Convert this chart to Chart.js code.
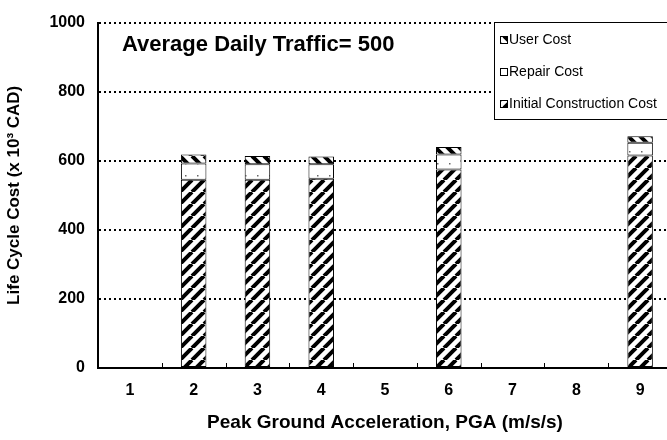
<!DOCTYPE html>
<html>
<head>
<meta charset="utf-8">
<script src="https://cdn.jsdelivr.net/npm/chart.js@4"></script>
<style>
  html, body { margin: 0; padding: 0; background: #fff; }
  #wrap { width: 667px; height: 440px; overflow: hidden; }
</style>
</head>
<body>
<div id="wrap"><canvas id="lcc" width="672" height="440"></canvas></div>
<script>
// values (x 10^3 CAD)
const pga = ['1', '2', '3', '4', '5', '6', '7', '8', '9'];
const initialCost = [null, 545, 545, 548, null, 575, null, null, 615];
const repairCost  = [null, 47, 45, 42, null, 43, null, null, 37];
const userCost    = [null, 26, 24, 22, null, 22, null, null, 19];
const yTicks = [0, 200, 400, 600, 800, 1000];

const FONT = 'Arial, "Liberation Sans", sans-serif';

function tile(draw) {
  const c = document.createElement('canvas');
  c.width = c.height = 12;
  const g = c.getContext('2d');
  g.fillStyle = '#fff';
  g.fillRect(0, 0, 12, 12);
  draw(g);
  return g.createPattern(c, 'repeat');
}
// "/" stripes for construction, "\" for user cost, dotted white for repair
const hatchUp = tile(g => {
  g.strokeStyle = '#000'; g.lineWidth = 4; g.beginPath();
  for (const o of [-12, 0, 12]) { g.moveTo(o, 12); g.lineTo(o + 12, 0); }
  g.stroke();
});
const hatchDown = tile(g => {
  g.strokeStyle = '#000'; g.lineWidth = 4; g.beginPath();
  for (const o of [-12, 0, 12]) { g.moveTo(o, 0); g.lineTo(o + 12, 12); }
  g.stroke();
});
const dots = tile(g => {
  g.fillStyle = '#666';
  g.fillRect(5, 7, 1.5, 1.5);
});

const legendItems = [
  { label: 'User Cost', fill: hatchDown },
  { label: 'Repair Cost', fill: dots },
  { label: 'Initial Construction Cost', fill: hatchUp },
];

const extras = {
  id: 'extras',
  afterDraw(chart) {
    const { ctx, chartArea, scales } = chart;
    ctx.save();
    // inward tick marks between categories
    ctx.strokeStyle = '#000';
    ctx.lineWidth = 1;
    for (let i = 0; i < pga.length - 1; i++) {
      const x = Math.round((scales.x.getPixelForValue(i) + scales.x.getPixelForValue(i + 1)) / 2) + 0.5;
      ctx.beginPath();
      ctx.moveTo(x, chartArea.bottom);
      ctx.lineTo(x, chartArea.bottom - 5);
      ctx.stroke();
    }
    // title inside the plot
    ctx.fillStyle = '#000';
    ctx.font = 'bold 22px ' + FONT;
    ctx.textBaseline = 'middle';
    ctx.fillText('Average Daily Traffic= 500', 122, 45);
    // legend box
    const bx = 494.5, by = 22.5;
    ctx.fillStyle = '#fff';
    ctx.fillRect(bx, by, 200, 97);
    ctx.strokeStyle = '#000';
    ctx.strokeRect(bx, by, 200, 97);
    ctx.font = '14px ' + FONT;
    legendItems.forEach((it, i) => {
      const y = 40 + i * 32;
      ctx.fillStyle = it.fill;
      ctx.fillRect(500, y - 4, 8, 8);
      ctx.strokeRect(500.5, y - 3.5, 7, 7);
      ctx.fillStyle = '#000';
      ctx.fillText(it.label, 509, y);
    });
    ctx.restore();
  }
};

const common = { borderColor: '#000', borderWidth: 1, borderSkipped: false,
  barPercentage: 0.4, categoryPercentage: 1 };

new Chart(document.getElementById('lcc'), {
  type: 'bar',
  data: {
    labels: pga,
    datasets: [
      { label: 'Initial Construction Cost', data: initialCost, backgroundColor: hatchUp, ...common },
      { label: 'Repair Cost', data: repairCost, backgroundColor: dots, ...common },
      { label: 'User Cost', data: userCost, backgroundColor: hatchDown, ...common },
    ]
  },
  options: {
    responsive: false,
    animation: false,
    layout: { padding: { top: 15, right: 0, left: 0, bottom: 0 } },
    plugins: { legend: { display: false }, tooltip: { enabled: false } },
    scales: {
      x: {
        stacked: true,
        grid: { display: false },
        border: { color: '#000', width: 2 },
        ticks: { color: '#000', font: { family: FONT, size: 16, weight: 'bold' }, padding: 5 },
        title: { display: true, text: 'Peak Ground Acceleration, PGA (m/s/s)', color: '#000',
          font: { family: FONT, size: 19, weight: 'bold' }, padding: { top: 4, bottom: 6 } },
        afterFit(s) { s.height = 72; }
      },
      y: {
        stacked: true,
        min: 0, max: 1000,
        afterBuildTicks(s) { s.ticks = yTicks.map(v => ({ value: v })); },
        grid: { color: '#000', lineWidth: 2, drawTicks: false },
        border: { color: '#000', width: 2, dash: [2, 3] },
        ticks: { color: '#000', font: { family: FONT, size: 16, weight: 'bold' }, padding: 13,
          callback: v => String(v) },
        title: { display: true, text: 'Life Cycle Cost (x 10³ CAD)', color: '#000',
          font: { family: FONT, size: 17, weight: 'bold' }, padding: { bottom: 4 } },
        afterFit(s) { s.width = 98; }
      }
    }
  },
  plugins: [extras]
});
</script>
</body>
</html>
